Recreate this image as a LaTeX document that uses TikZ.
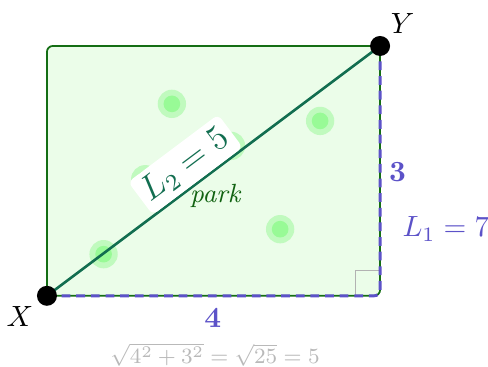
\documentclass[tikz,border=0pt]{standalone}
\usetikzlibrary{calc}
\definecolor{parkfill}{RGB}{235,253,233}
\definecolor{parkedge}{RGB}{20,110,20}
\definecolor{diag}{RGB}{18,110,80}
\definecolor{walk}{RGB}{92,82,200}
\definecolor{treeout}{RGB}{192,250,190}
\definecolor{treein}{RGB}{152,250,150}
\tikzset{
  tree/.style={circle, fill=treeout, minimum size=0.34cm, inner sep=0pt,
    path picture={\fill[treein] (path picture bounding box.center) circle (0.1cm);}},
  dot/.style={circle, fill=black, minimum size=0.24cm, inner sep=0pt},
  walklbl/.style={text=walk},
}
\begin{document}
\begin{tikzpicture}
\useasboundingbox (-0.564,-0.852) rectangle (5.296,3.552);
\coordinate (X) at (0,0);
\coordinate (C) at (4,0);
\coordinate (Y) at (4,3);
\coordinate (TL) at (0,3);
% park
\draw[parkedge, fill=parkfill, semithick, rounded corners=2pt] (X) -- (C) -- (Y) -- (TL) -- cycle;
% trees
\node[tree] (t1) at (1.50,2.305) {};
\node[tree] (t2) at (2.21,1.80) {};
\node[tree] (t3) at (1.18,1.40) {};
\node[tree] (t4) at (0.68,0.50) {};
\node[tree] (t5) at (3.28,2.10) {};
\node[tree] (t6) at (2.80,0.80) {};
% right angle
\draw[gray!60, line width=0.4pt] ($(C)+(-0.3,0)$) -- ($(C)+(-0.3,0.3)$) -- ($(C)+(0,0.3)$);
% walk
\draw[walk, line width=1pt, dash pattern=on 3pt off 2pt, rounded corners=2pt] (X) -- (C) -- (Y);
% diagonal
\draw[diag, line width=0.9pt] (X) -- node[pos=0.455, sloped, above=0pt, fill=white, rounded corners=2pt, inner sep=2pt, text=diag, font=\large] (l2) {$L_2 = 5$} (Y);
% labels
\node[text=parkedge!90!black, font=\small\itshape] (park) at (2.02,1.20) {park};
\node[walklbl] (four) at (1.99,-0.264) {$\mathbf{4}$};
\node[walklbl] (three) at (4.21,1.49) {$\mathbf{3}$};
\node[walklbl] (l1) at (4.79,0.80) {$L_1 = 7$};
\node[text=gray!55, font=\footnotesize, scale=0.93] (pyth) at (2.02,-0.71) {$\sqrt{4^2+3^2}=\sqrt{25}=5$};
% endpoints
\node[dot] (dX) at (X) {};
\node[dot] (dY) at (Y) {};
\node (xl) at (-0.324,-0.252) {$X$};
\node (yl) at (4.27,3.265) {$Y$};
\end{tikzpicture}
\end{document}
